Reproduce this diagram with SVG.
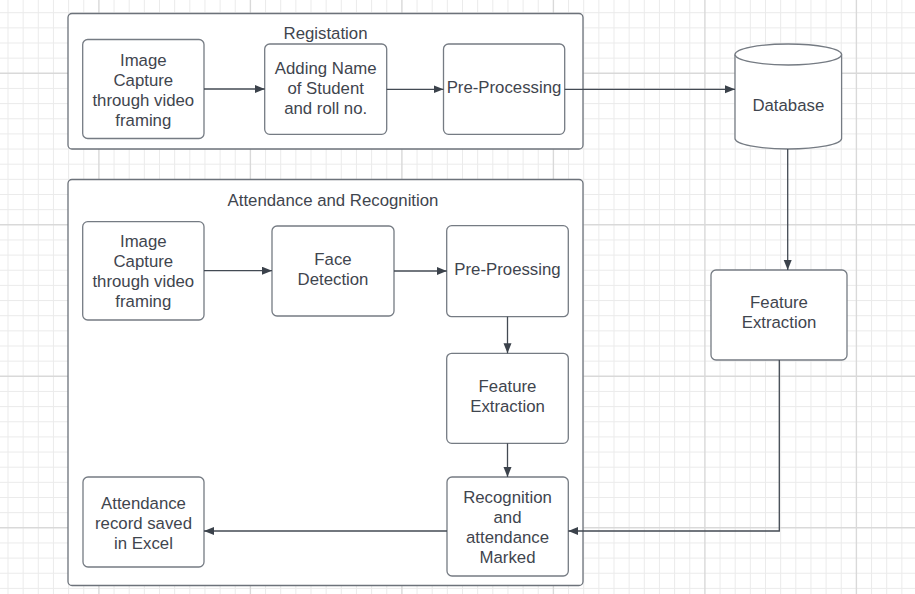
<svg xmlns="http://www.w3.org/2000/svg" width="915" height="594" viewBox="0 0 915 594">
<style>
.bg{fill:#ffffff}
.minor{stroke:#ebebeb;stroke-width:1;fill:none}
.major{stroke:#d9d9d9;stroke-width:1.4;fill:none}
.cont{fill:#ffffff;stroke:#6c727a;stroke-width:1.3}
.box{fill:#ffffff;stroke:#757b83;stroke-width:1.3}
.t{font-family:"Liberation Sans",Arial,sans-serif;font-size:16.8px;fill:#3f454e;text-anchor:middle}
.edge{stroke:#434a53;stroke-width:1.3;fill:none}
</style>
<defs>
<marker id="ah" markerUnits="userSpaceOnUse" markerWidth="11" markerHeight="9" refX="10" refY="4" orient="auto">
<path d="M0,0 L10,4 L0,8 z" fill="#3b424b"/>
</marker>
</defs>
<rect class="bg" x="0" y="0" width="915" height="594"/>
<g id="grid">
<path class="minor" d="M8,0V594 M23.15,0V594 M38.3,0V594 M53.45,0V594 M68.6,0V594 M83.75,0V594 M114.05,0V594 M129.2,0V594 M144.35,0V594 M159.5,0V594 M174.65,0V594 M189.8,0V594 M204.95,0V594 M220.1,0V594 M235.25,0V594 M265.55,0V594 M280.7,0V594 M295.85,0V594 M311,0V594 M326.15,0V594 M341.3,0V594 M356.45,0V594 M371.6,0V594 M386.75,0V594 M417.05,0V594 M432.2,0V594 M447.35,0V594 M462.5,0V594 M477.65,0V594 M492.8,0V594 M507.95,0V594 M523.1,0V594 M538.25,0V594 M568.55,0V594 M583.7,0V594 M598.85,0V594 M614,0V594 M629.15,0V594 M644.3,0V594 M659.45,0V594 M674.6,0V594 M689.75,0V594 M720.05,0V594 M735.2,0V594 M750.35,0V594 M765.5,0V594 M780.65,0V594 M795.8,0V594 M810.95,0V594 M826.1,0V594 M841.25,0V594 M871.55,0V594 M886.7,0V594 M901.85,0V594
M0,12.7H915 M0,27.85H915 M0,43H915 M0,58.15H915 M0,88.45H915 M0,103.6H915 M0,118.75H915 M0,133.9H915 M0,149.05H915 M0,164.2H915 M0,179.35H915 M0,194.5H915 M0,209.65H915 M0,239.95H915 M0,255.1H915 M0,270.25H915 M0,285.4H915 M0,300.55H915 M0,315.7H915 M0,330.85H915 M0,346H915 M0,361.15H915 M0,391.45H915 M0,406.6H915 M0,421.75H915 M0,436.9H915 M0,452.05H915 M0,467.2H915 M0,482.35H915 M0,497.5H915 M0,512.65H915 M0,542.95H915 M0,558.1H915 M0,573.25H915 M0,588.4H915"/>
<path class="major" d="M98.9,0V594 M250.4,0V594 M401.9,0V594 M553.4,0V594 M704.9,0V594 M856.4,0V594 M0,73.3H915 M0,224.8H915 M0,376.3H915 M0,527.8H915"/>
</g>
<g id="registration">
<rect class="cont" x="68" y="13.5" width="515" height="135.5" rx="4"/>
<text class="t" x="325.5" y="39">Registation</text>
</g>
<g id="attendance-recognition">
<rect class="cont" x="68" y="179.5" width="515" height="406" rx="4"/>
<text class="t" x="333" y="206">Attendance and Recognition</text>
</g>
<g id="reg-image-capture">
<rect class="box" x="82.7" y="39.5" width="121.3" height="99" rx="5"/>
<text class="t" x="143.3" y="66">Image<tspan x="143.3" dy="20">Capture</tspan><tspan x="143.3" dy="20">through video</tspan><tspan x="143.3" dy="20">framing</tspan></text>
</g>
<g id="reg-adding-name">
<rect class="box" x="264.7" y="44" width="122" height="90.3" rx="5"/>
<text class="t" x="325.7" y="73.7">Adding Name<tspan x="325.7" dy="20">of Student</tspan><tspan x="325.7" dy="20">and roll no.</tspan></text>
</g>
<g id="reg-preprocessing">
<rect class="box" x="443.5" y="44" width="121.2" height="90.3" rx="5"/>
<text class="t" x="504" y="93.3">Pre-Processing</text>
</g>
<g id="database">
<path class="box" d="M735,54.5 V138.5 A53.3,10.5 0 0 0 841.6,138.5 V54.5"/>
<ellipse class="box" cx="788.3" cy="54.5" rx="53.3" ry="10.5"/>
<text class="t" x="788.3" y="111">Database</text>
</g>
<g id="att-image-capture">
<rect class="box" x="82.7" y="221.7" width="121.3" height="98.3" rx="5"/>
<text class="t" x="143.3" y="247">Image<tspan x="143.3" dy="20">Capture</tspan><tspan x="143.3" dy="20">through video</tspan><tspan x="143.3" dy="20">framing</tspan></text>
</g>
<g id="face-detection">
<rect class="box" x="272" y="226" width="122" height="90" rx="5"/>
<text class="t" x="333" y="265">Face<tspan x="333" dy="20">Detection</tspan></text>
</g>
<g id="att-preprocessing">
<rect class="box" x="446.7" y="225.7" width="121.6" height="91" rx="5"/>
<text class="t" x="507.5" y="275">Pre-Proessing</text>
</g>
<g id="att-feature-extraction">
<rect class="box" x="446.7" y="353.3" width="121.6" height="90" rx="5"/>
<text class="t" x="507.5" y="391.7">Feature<tspan x="507.5" dy="20">Extraction</tspan></text>
</g>
<g id="recognition">
<rect class="box" x="447" y="477" width="121.3" height="99" rx="5"/>
<text class="t" x="507.5" y="503">Recognition<tspan x="507.5" dy="20">and</tspan><tspan x="507.5" dy="20">attendance</tspan><tspan x="507.5" dy="20">Marked</tspan></text>
</g>
<g id="attendance-record">
<rect class="box" x="83" y="477" width="121" height="90" rx="5"/>
<text class="t" x="143.5" y="509">Attendance<tspan x="143.5" dy="20">record saved</tspan><tspan x="143.5" dy="20">in Excel</tspan></text>
</g>
<g id="db-feature-extraction">
<rect class="box" x="711" y="270" width="136" height="90" rx="5"/>
<text class="t" x="779" y="308.3">Feature<tspan x="779" dy="20">Extraction</tspan></text>
</g>
<g id="connectors">
<path class="edge" d="M204,89 H264.7" marker-end="url(#ah)"/>
<path class="edge" d="M386.7,89.3 H443.5" marker-end="url(#ah)"/>
<path class="edge" d="M564.7,89.3 H735" marker-end="url(#ah)"/>
<path class="edge" d="M787.7,149 V270" marker-end="url(#ah)"/>
<path class="edge" d="M204,270.7 H272" marker-end="url(#ah)"/>
<path class="edge" d="M394,271 H446.7" marker-end="url(#ah)"/>
<path class="edge" d="M507.5,316.7 V353.3" marker-end="url(#ah)"/>
<path class="edge" d="M507.5,443.3 V477" marker-end="url(#ah)"/>
<path class="edge" d="M779.3,360 V531 H568.3" marker-end="url(#ah)"/>
<path class="edge" d="M447,531 H204" marker-end="url(#ah)"/>
</g>
</svg>
